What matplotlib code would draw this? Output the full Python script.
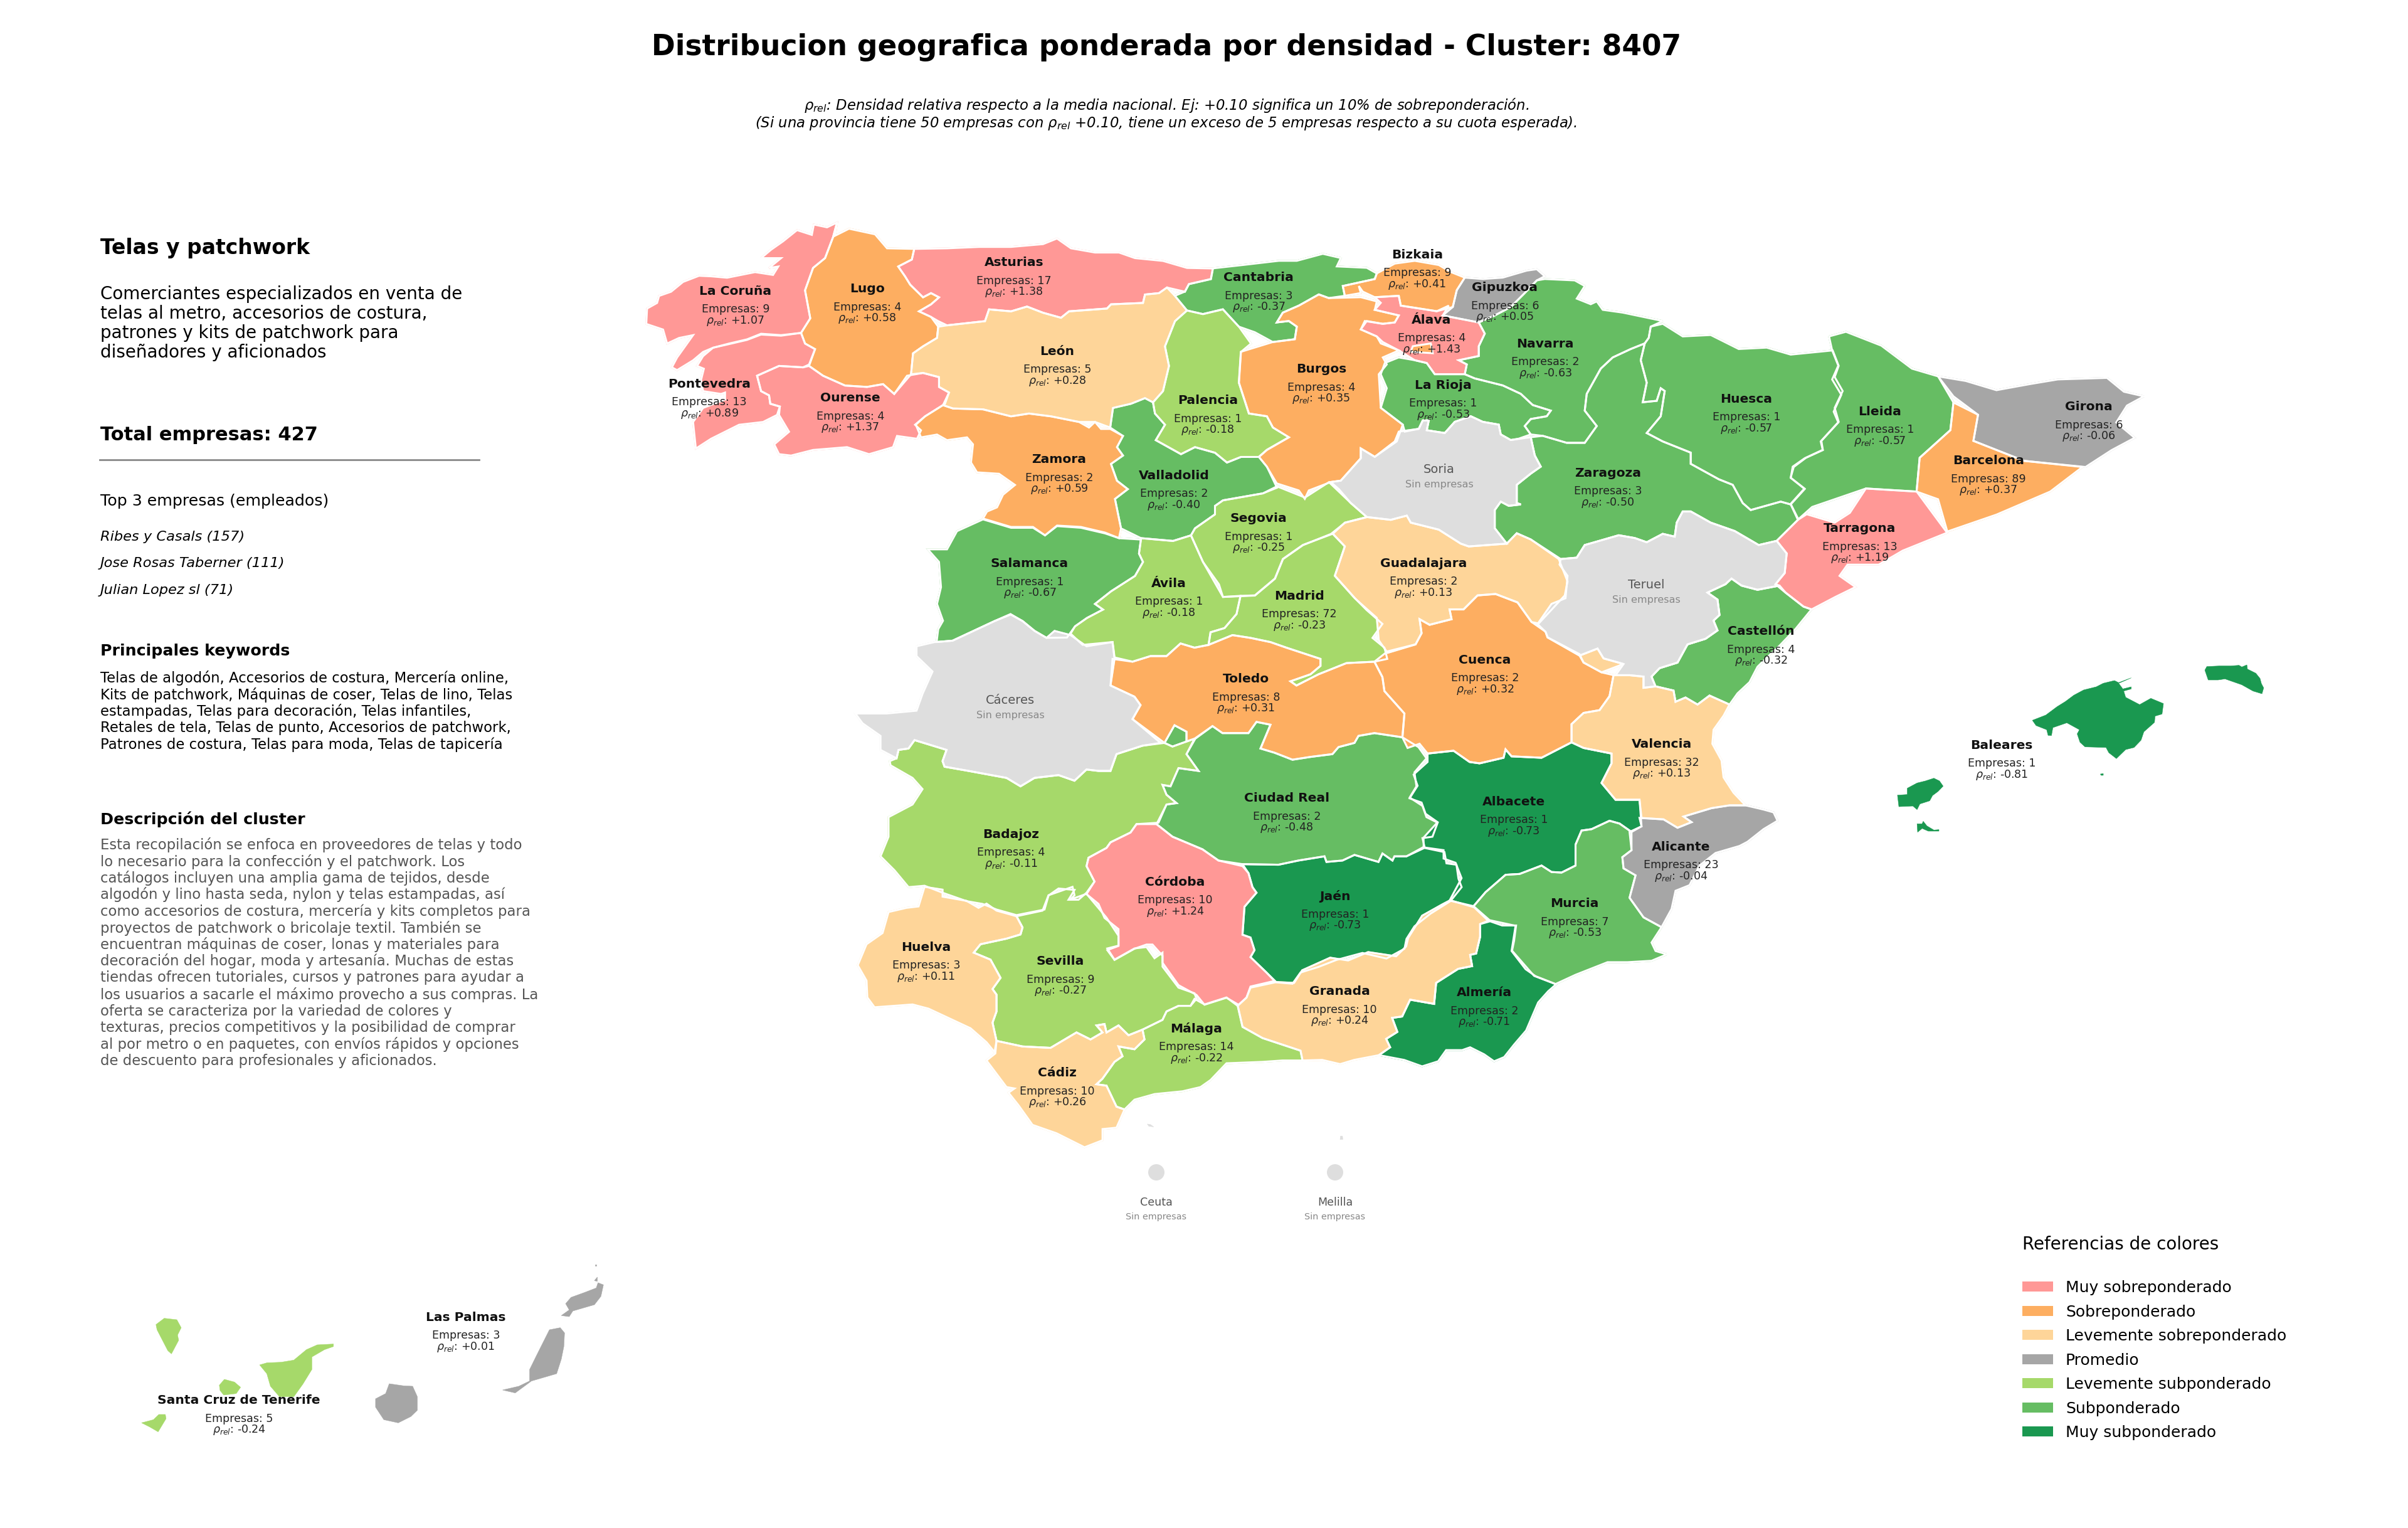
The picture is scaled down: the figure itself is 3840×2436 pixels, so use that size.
import matplotlib
matplotlib.use("Agg")
import matplotlib.pyplot as plt
from matplotlib.patches import Patch, Circle

# recortes de referencia: x0, y0, escala x, escala y (cada contorno se leyo sobre uno de ellos)
RECORTES = {
    "NO": (1000, 320, 1.568, 2.24),
    "NE": (1950, 360, 1.568, 2.24),
    "CE": (1350, 950, 1.568, 2.24),
    "ES": (2200, 900, 1.568, 2.24),
    "SO": (1350, 1300, 1.568, 2.24),
    "SE": (2000, 1250, 1.568, 2.24),
    "CA": (150, 2000, 1.742, 3.0),
    "BA": (2950, 1020, 2.24, 3.0),
    "PV": (0, 0, 1 / 2.449, 1 / 2.449),
}

LA_CORUNA = [(525,78),(500,95),(467,85),(462,122),(425,105),(390,145),(360,175),(335,205),(385,205),(355,240),(378,235),(365,265),(320,255),(250,275),(210,270),(180,268),(140,290),(110,325),(80,340),(75,365),(50,385),(48,440),(90,460),(100,510),(130,490),(165,480),(140,530),(125,560),(112,595),(125,605),(165,570),(190,540),(215,525),(255,510),(300,495),(335,475),(385,480),(435,472),(458,420),(445,320),(465,240),(495,205),(515,130)]
PONTEVEDRA = [(215,525),(255,512),(300,497),(335,478),(385,482),(435,472),(445,510),(470,530),(455,585),(440,595),(380,590),(325,625),(335,680),(355,695),(358,725),(382,735),(375,765),(340,790),(280,800),(210,850),(172,885),(165,790),(190,740),(245,710),(245,685),(235,690),(190,680),(185,640),(192,600),(175,590),(190,555)]
OURENSE = [(325,625),(380,590),(440,595),(455,590),(490,625),(545,660),(600,665),(640,655),(668,690),(700,625),(740,615),(780,630),(780,665),(805,685),(795,725),(745,770),(720,800),(735,820),(725,850),(675,840),(665,880),(605,905),(550,880),(465,890),(410,910),(380,905),(368,870),(405,825),(380,765),(382,735),(358,725),(355,695),(335,680)]
LUGO = [(525,78),(520,125),(555,100),(620,120),(650,170),(718,172),(712,210),(678,235),(695,270),(708,300),(740,345),(760,330),(780,345),(760,370),(730,395),(760,415),(778,450),(775,490),(740,520),(715,545),(710,620),(668,690),(640,655),(600,665),(545,660),(490,625),(455,590),(470,530),(445,510),(435,472),(458,420),(445,320),(465,240),(495,205),(515,130)]
ASTURIAS = [(718,172),(800,170),(880,165),(960,165),(1040,155),(1075,135),(1110,170),(1170,185),(1230,185),(1270,205),(1340,215),(1400,240),(1465,242),(1460,280),(1405,298),(1395,325),(1350,310),(1330,330),(1295,335),(1290,365),(1210,370),(1200,385),(1105,395),(1085,418),(1040,400),(1000,378),(960,395),(905,388),(895,430),(800,445),(778,430),(760,415),(730,395),(760,370),(780,345),(760,330),(740,345),(708,300),(695,270),(678,235),(712,210)]
LEON = [(800,445),(895,430),(905,388),(960,395),(1000,378),(1040,400),(1085,418),(1105,395),(1200,385),(1210,370),(1290,365),(1295,335),(1330,330),(1350,310),(1370,340),(1400,392),(1370,430),(1345,520),(1355,590),(1340,680),(1315,720),(1295,705),(1260,725),(1215,740),(1208,810),(1170,790),(1130,790),(1060,770),(1005,760),(960,770),(890,745),(815,742),(790,730),(805,685),(780,665),(780,630),(740,615),(710,620),(715,545),(740,520),(775,490),(778,450)]
ZAMORA = [(790,730),(815,742),(890,745),(960,770),(1005,760),(1060,770),(1130,790),(1155,810),(1170,790),(1185,815),(1208,815),(1240,840),(1225,880),(1240,910),(1210,940),(1225,1000),(1252,1030),(1220,1065),(1235,1170),(1230,1205),(1195,1185),(1135,1165),(1075,1160),(1045,1195),(1015,1165),(960,1165),(890,1135),(900,1110),(925,1095),(940,1050),(970,1015),(930,975),(875,970),(860,935),(865,870),(850,845),(800,855),(775,835),(735,845),(722,800),(745,770)]
SALAMANCA = [(890,1138),(960,1168),(1015,1168),(1045,1195),(1075,1162),(1135,1168),(1195,1188),(1230,1205),(1285,1210),(1280,1260),(1290,1290),(1270,1340),(1210,1395),(1170,1440),(1190,1460),(1150,1490),(1120,1520),(1100,1560),(1049,1561),(1019,1536),(989,1501),(959,1478),(919,1501),(859,1541),(814,1571),(774,1576),(778,1530),(790,1500),(775,1440),(785,1380),(780,1290),(752,1245),(800,1245),(825,1180)]
PALENCIA = [(1400,392),(1440,405),(1490,388),(1530,450),(1560,510),(1535,540),(1530,650),(1555,760),(1600,770),(1615,810),(1655,845),(1600,890),(1580,915),(1535,915),(1500,935),(1470,900),(1420,880),(1385,905),(1322,855),(1345,800),(1320,760),(1315,720),(1340,680),(1355,590),(1345,520),(1370,430)]
VALLADOLID = [(1208,810),(1215,740),(1260,725),(1295,705),(1315,720),(1320,760),(1345,800),(1322,855),(1385,905),(1420,880),(1470,900),(1500,935),(1535,915),(1580,915),(1600,950),(1625,1025),(1590,1045),(1490,1070),(1470,1090),(1470,1120),(1420,1170),(1410,1195),(1365,1215),(1285,1205),(1235,1170),(1220,1065),(1252,1030),(1225,1000),(1210,940),(1240,910),(1225,880),(1240,840)]
SEGOVIA = [(1410,1195),(1420,1170),(1470,1120),(1470,1090),(1490,1070),(1590,1045),(1625,1020),(1695,1060),(1755,1005),(1810,1080),(1850,1130),(1795,1150),(1760,1190),(1690,1230),(1640,1280),(1620,1350),(1570,1410),(1490,1415),(1480,1370),(1440,1290)]
AVILA = [(1285,1205),(1365,1215),(1410,1195),(1440,1290),(1490,1415),(1534,1411),(1524,1476),(1494,1526),(1459,1541),(1454,1586),(1419,1596),(1384,1581),(1349,1626),(1309,1626),(1264,1646),(1219,1631),(1214,1576),(1139,1586),(1109,1546),(1120,1520),(1150,1490),(1190,1460),(1170,1440),(1210,1395),(1270,1340),(1290,1290),(1280,1260)]

MADRID = [(1216,-222),(1246,-177),(1221,-72),(1271,8),(1300,50),(1340,100),(1315,150),(1345,185),(1352,225),(1320,235),(1250,240),(1180,280),(1125,320),(1110,305),(1160,280),(1185,250),(1185,225),(1100,185),(1060,165),(1010,150),(965,140),(905,175),(910,130),(945,115),(975,65),(985,0),(1021,-2),(1071,-62),(1091,-132),(1141,-182)]
TOLEDO = [(665,225),(715,235),(760,215),(800,215),(835,170),(870,185),(905,175),(965,140),(1010,150),(1060,165),(1100,185),(1185,225),(1185,250),(1160,280),(1110,305),(1125,320),(1180,280),(1250,240),(1320,235),(1340,290),(1345,340),(1395,420),(1390,505),(1320,490),(1280,500),(1270,525),(1230,540),(1215,565),(1160,575),(1115,585),(1070,560),(1035,545),(1060,460),(1025,450),(1005,490),(940,490),(915,465),(870,510),(850,520),(850,485),(820,462),(795,525),(715,440),(735,390),(720,360),(690,340),(660,320)]
CACERES = [(22,420),(100,420),(175,410),(190,350),(215,270),(175,215),(175,180),(220,165),(265,160),(310,130),(370,90),(410,65),(440,90),(470,125),(500,150),(520,125),(560,140),(600,180),(665,165),(670,225),(660,320),(690,340),(720,360),(735,390),(715,440),(785,525),(740,535),(675,565),(660,625),(630,625),(600,620),(570,660),(530,640),(470,650),(435,680),(400,650),(305,625),(245,610),(240,590),(250,550),(170,515),(155,545),(130,550),(125,580),(85,550),(85,500),(40,455)]
BADAJOZ = [(108,590),(125,580),(130,550),(155,545),(170,515),(250,550),(240,590),(245,610),(305,625),(400,650),(435,680),(470,650),(530,640),(570,660),(600,620),(630,625),(660,625),(675,565),(740,535),(795,525),(815,538),(850,520),(870,510),(850,565),(880,625),(830,615),(810,680),(790,675),(800,710),(825,740),(800,745),(780,810),(725,815),(710,845),(660,880),(650,900),(605,935),(600,965),(620,1020),(600,1060),(580,1085),(555,1085),(570,1050),(530,1045),(505,1070),(495,1120),(425,1140),(375,1120),(340,1100),(300,1090),(240,1060),(195,1035),(155,1040),(120,980),(85,930),(105,860),(105,790),(165,745),(190,690),(165,650),(110,605)]
CIUDAD_REAL = [(872,510),(915,465),(940,490),(1005,490),(1025,450),(1060,460),(1035,545),(1070,560),(1115,585),(1160,575),(1215,565),(1230,540),(1270,525),(1280,500),(1320,490),(1390,505),(1430,540),(1450,580),(1420,630),(1425,680),(1408,720),(1440,750),(1450,790),(1478,810),(1465,860),(1440,865),(1445,895),(1400,930),(1370,930),(1365,945),(1340,920),(1330,950),(1270,925),(1240,945),(1200,950),(1195,930),(1130,945),(1080,960),(990,958),(930,945),(890,905),(815,860),(775,815),(800,745),(825,740),(800,710),(790,675),(810,680),(830,615),(880,625),(850,565)]
ENCLAVE_CR = [(795,525),(820,462),(850,485),(850,520),(815,538)]
CORDOBA = [(725,815),(775,815),(815,860),(890,905),(930,945),(990,965),(1005,990),(1015,1040),(1025,1060),(995,1110),(990,1210),(1010,1220),(1020,1265),(1010,1290),(1050,1345),(1070,1375),(1010,1395),(1000,1435),(980,1460),(950,1435),(895,1460),(875,1425),(830,1390),(790,1310),(790,1285),(765,1245),(750,1245),(720,1260),(670,1300),(652,1265),(680,1250),(680,1190),(645,1150),(630,1100),(600,1065),(620,1020),(600,965),(605,935),(650,900),(660,880),(710,845)]
JAEN = [(990,958),(1080,960),(1130,945),(1195,930),(1200,950),(1240,945),(1270,925),(1330,950),(1340,920),(1365,945),(1370,930),(1400,930),(1445,900),(1495,915),(1500,955),(1525,960),(1530,1010),(1538,1040),(1510,1090),(1460,1135),(1420,1180),(1400,1225),(1395,1260),(1350,1295),(1290,1275),(1225,1300),(1180,1325),(1135,1345),(1115,1385),(1075,1380),(1050,1345),(1010,1290),(1020,1265),(1010,1220),(990,1210),(995,1110),(1025,1060),(1015,1040),(1005,990)]

ALBACETE = [(120,675),(185,665),(225,705),(250,710),(310,690),(315,660),(330,685),(405,690),(480,635),(510,655),(580,675),(580,710),(555,780),(590,840),(650,840),(655,935),(630,955),(600,925),(575,915),(530,945),(505,950),(490,1000),(490,1075),(455,1100),(430,1098),(405,1075),(350,1105),(315,1108),(265,1170),(235,1220),(175,1200),(205,1120),(190,1065),(160,1050),(160,1020),(110,1010),(110,975),(145,920),(115,890),(105,850),(75,835),(95,790),(85,750),(120,705)]
CUENCA = [(100,195),(125,215),(180,195),(175,160),(210,160),(245,110),(290,105),(345,135),(380,205),(415,240),(420,260),(500,320),(510,350),(555,385),(585,395),(575,470),(550,520),(510,530),(480,570),(480,635),(405,690),(330,685),(315,660),(310,690),(250,710),(225,705),(185,665),(120,675),(100,640),(70,655),(57,617),(62,532),(12,452),(7,402),(-13,347),(20,310),(90,285),(105,245)]
ADEMUZ = [(500,325),(545,300),(560,335),(610,355),(555,385),(510,350)]
CASTELLON = [(820,100),(865,70),(880,50),(905,75),(945,90),(1000,75),(1015,100),(1060,150),(1080,160),(1040,230),(1000,290),(970,330),(945,365),(925,420),(895,460),(875,500),(825,468),(795,500),(765,475),(740,490),(735,450),(690,435),(680,400),(700,370),(745,350),(770,285),(815,265),(845,235),(835,200),(850,180),(845,125)]
VALENCIA = [(585,395),(625,395),(660,400),(660,440),(690,435),(735,450),(740,490),(765,475),(795,500),(825,468),(875,500),(860,540),(835,590),(832,640),(855,700),(860,760),(885,815),(915,860),(875,860),(830,870),(760,900),(780,920),(745,940),(710,910),(655,905),(650,840),(590,840),(555,780),(580,710),(580,675),(510,655),(480,635),(480,570),(510,530),(550,520),(575,470)]
ALICANTE = [(650,905),(710,910),(745,940),(780,920),(760,900),(830,870),(875,860),(915,860),(960,875),(985,885),(995,915),(960,945),(920,990),(900,1005),(840,1030),(800,1075),(775,1145),(740,1165),(730,1230),(705,1295),(660,1260),(625,1190),(640,1110),(610,1085),(607,1045),(630,1020),(625,955),(655,935)]
MURCIA = [(235,1220),(265,1170),(315,1108),(350,1105),(405,1075),(430,1098),(455,1100),(490,1075),(490,1000),(505,950),(530,945),(575,915),(600,925),(630,955),(630,1020),(607,1045),(610,1085),(640,1110),(625,1190),(660,1260),(705,1295),(680,1350),(690,1380),(718,1392),(680,1415),(620,1420),(570,1420),(490,1465),(440,1498),(390,1470),(365,1445),(330,1380),(340,1290),(275,1270)]

BURGOS = [(240,245),(265,258),(345,255),(385,270),(380,300),(440,320),(430,345),(400,350),(355,340),(345,370),(385,395),(395,420),(440,445),(400,470),(410,495),(390,530),(395,650),(450,710),(435,770),(380,825),(345,795),(345,830),(295,910),(270,915),(215,945),(205,975),(190,945),(135,920),(110,860),(90,825),(110,800),(165,755),(125,720),(110,680),(65,670),(40,560),(45,450),(125,415),(180,405),(185,360),(165,340),(135,345),(150,310),(190,285)]
CANTABRIA = [(-25,152),(50,140),(140,125),(185,125),(250,100),(295,115),(285,145),(360,150),(385,170),(380,190),(300,215),(305,250),(265,258),(240,245),(190,285),(150,310),(135,345),(165,340),(185,360),(180,405),(125,415),(80,380),(40,360),(0,298),(-50,315),(-90,302),(-120,250),(-95,235),(-85,208),(-30,190)]
BIZKAIA = [(300,215),(380,190),(385,170),(430,135),(480,125),(540,140),(570,165),(605,185),(585,230),(575,290),(535,305),(445,285),(440,250),(380,255),(350,235),(340,215),(345,240),(305,250)]
GIPUZKOA = [(605,185),(650,190),(700,185),(760,160),(785,155),(805,180),(785,195),(755,240),(720,290),(680,320),(640,345),(550,320),(575,290),(585,230)]
ALAVA = [(380,255),(440,250),(445,285),(535,305),(565,285),(550,320),(640,345),(655,385),(640,430),(640,465),(590,480),(610,495),(605,530),(530,530),(510,490),(480,480),(440,445),(400,415),(385,395),(345,370),(360,340),(400,350),(430,345),(440,320),(380,300),(395,275)]
TREVINO = [(475,430),(520,420),(525,455),(470,450)]
LA_RIOJA = [(405,490),(440,470),(480,480),(510,490),(530,530),(605,530),(630,545),(700,570),(745,600),(775,640),(820,660),(810,680),(770,690),(755,715),(770,745),(740,760),(720,765),(695,745),(690,710),(650,700),(620,680),(580,700),(555,740),(510,730),(515,695),(500,695),(490,725),(455,735),(450,710),(395,650),(410,580),(395,530)]
NAVARRA = [(805,190),(880,195),(905,215),(885,260),(920,280),(935,270),(950,300),(1000,310),(1100,340),(1070,360),(1065,400),(1055,420),(1020,440),(975,470),(945,510),(910,600),(905,660),(935,715),(905,775),(860,775),(800,750),(770,745),(755,715),(770,690),(810,680),(820,660),(775,640),(745,600),(700,570),(630,545),(605,530),(610,495),(590,480),(640,465),(640,430),(655,385),(640,345),(680,320),(720,290),(755,240),(785,195)]
ZARAGOZA = [(770,755),(800,750),(860,775),(905,775),(935,715),(905,660),(910,600),(945,510),(975,470),(1020,440),(1055,420),(1045,480),(1060,560),(1050,630),(1085,625),(1095,580),(1105,590),(1095,680),(1060,740),(1100,770),(1170,810),(1170,850),(1240,905),(1275,925),(1300,990),(1320,1015),(1395,985),(1420,995),(1438,1050),(1385,1125),(1340,1140),(1280,1090),(1220,1060),(1170,1020),(1150,1020),(1135,1060),(1130,1110),(1100,1100),(1060,1130),(1030,1115),(990,1105),(905,1140),(885,1185),(845,1190),(770,1120),(735,1098),(710,1135),(680,1080),(680,1015),(695,985),(715,1000),(745,995),(735,990),(735,925),(770,885),(795,860),(780,820)]
HUESCA = [(1100,350),(1150,395),(1220,390),(1290,440),(1360,435),(1420,460),(1525,445),(1540,500),(1530,540),(1550,590),(1530,650),(1540,700),(1495,770),(1500,800),(1455,830),(1425,860),(1420,900),(1455,940),(1420,995),(1395,985),(1320,1015),(1300,990),(1275,925),(1240,905),(1170,850),(1170,810),(1100,770),(1060,740),(1095,680),(1105,590),(1095,580),(1085,625),(1050,630),(1060,560),(1045,480),(1055,420),(1065,400),(1070,360)]
SORIA = [(270,915),(295,910),(345,830),(345,795),(380,825),(430,770),(440,735),(490,725),(500,695),(515,695),(510,730),(555,740),(580,700),(620,680),(650,700),(690,710),(695,745),(720,765),(770,755),(780,820),(795,860),(770,885),(735,925),(735,990),(745,995),(715,1000),(695,985),(680,1015),(680,1080),(710,1135),(615,1145),(595,1135),(540,1085),(470,1060),(460,1035),(420,1050),(360,1040),(320,990),(290,940)]
GUADALAJARA = [(275,1100),(305,1060),(360,1040),(420,1050),(460,1035),(470,1060),(540,1085),(595,1135),(615,1145),(710,1135),(735,1098),(770,1120),(840,1190),(862,1270),(855,1320),(790,1420),(772,1415),(737,1345),(682,1315),(637,1320),(602,1370),(567,1370),(572,1405),(517,1425),(492,1405),(497,1455),(482,1495),(412,1525),(390,1480),(385,1400),(330,1330),(280,1250),(305,1145)]
TERUEL = [(845,1190),(885,1185),(905,1140),(990,1105),(1030,1115),(1060,1130),(1100,1100),(1130,1110),(1135,1060),(1150,1020),(1170,1020),(1220,1060),(1280,1090),(1340,1140),(1385,1125),(1410,1170),(1405,1240),(1382,1280),(1392,1285),(1337,1300),(1297,1285),(1272,1260),(1257,1280),(1212,1310),(1237,1335),(1242,1390),(1227,1410),(1237,1445),(1207,1475),(1162,1495),(1137,1560),(1092,1580),(1072,1610),(1082,1645),(1052,1650),(1052,1610),(1017,1605),(982,1605),(1002,1565),(952,1545),(937,1510),(892,1535),(812,1470),(807,1450),(787,1422),(822,1350),(857,1330),(862,1250),(842,1210)]
TARRAGONA = [(1385,1125),(1438,1050),(1460,1030),(1530,1060),(1568,1025),(1608,938),(1735,949),(1811,1096),(1700,1160),(1640,1210),(1562,1210),(1542,1250),(1582,1290),(1532,1325),(1472,1370),(1452,1360),(1407,1310),(1382,1280),(1405,1240),(1410,1170)]

LLEIDA = [(1191,219),(1202,216),(1225,225),(1245,240),(1262,245),(1272,262),(1270,280),(1250,298),(1248,320),(1215,318),(1180,330),(1171,338),(1166,328),(1175,318),(1166,311),(1168,304),(1176,298),(1187,293),(1186,287),(1197,275),(1194,268),(1199,257),(1193,247),(1197,238),(1193,228)]
GIRONA = [(1272,258),(1262,245),(1280,248),(1300,254),(1322,250),(1340,247),(1372,246),(1383,255),(1396,258),(1385,264),(1378,275),(1390,285),(1375,293),(1358,304),(1318,300),(1285,287),(1288,270)]
BARCELONA = [(1272,262),(1288,270),(1285,287),(1318,300),(1356,304),(1335,320),(1300,335),(1268,346),(1262,325),(1248,320),(1250,298),(1270,280)]

ALMERIA = [(565,500),(590,490),(620,505),(655,505),(650,560),(645,595),(700,685),(755,715),(735,740),(710,780),(695,830),(680,880),(650,930),(625,975),(600,990),(575,965),(540,940),(520,950),(480,950),(460,990),(420,1008),(375,985),(312,968),(340,940),(330,910),(358,885),(345,835),(370,830),(390,770),(450,785),(455,710),(510,660),(545,650),(540,610),(555,605),(565,545)]
GRANADA = [(490,415),(550,440),(585,488),(565,500),(565,545),(555,605),(540,610),(545,650),(510,660),(455,710),(450,785),(390,770),(370,830),(345,835),(358,885),(330,910),(340,940),(312,968),(250,985),(215,1000),(170,985),(121,987),(116,952),(21,907),(-29,867),(-41,792),(-19,762),(-9,727),(56,707),(100,710),(120,665),(190,620),(235,630),(285,600),(355,615),(380,580),(385,550),(420,470),(470,430)]
MALAGA = [(640,940),(670,880),(690,860),(680,825),(720,835),(745,800),(740,765),(790,730),(800,700),(830,680),(860,680),(870,655),(895,675),(950,650),(978,680),(990,755),(1040,795),(1135,840),(1140,875),(1090,875),(1040,880),(950,885),(910,945),(885,970),(840,985),(770,995),(720,1015),(695,1050),(675,1040),(650,965),(625,960)]
SEVILLA = [(318,490),(335,460),(400,440),(435,425),(440,400),(425,360),(490,340),(505,285),(565,255),(570,285),(560,300),(600,280),(650,365),(680,430),(680,465),(652,475),(670,515),(720,475),(750,470),(770,510),(790,490),(790,540),(830,615),(870,635),(875,655),(860,680),(830,680),(800,700),(790,730),(740,765),(705,785),(680,750),(650,775),(645,745),(625,750),(640,775),(610,800),(575,775),(510,830),(440,825),(375,805),(365,740),(375,700),(375,640),(365,620),(385,580),(360,515)]
HUELVA = [(195,255),(240,265),(240,290),(300,305),(330,330),(350,315),(375,340),(425,360),(440,400),(435,425),(400,440),(335,460),(318,490),(360,515),(385,580),(365,620),(375,640),(375,700),(365,740),(375,805),(370,845),(350,810),(310,760),(250,720),(205,690),(165,675),(70,685),(52,650),(50,590),(28,535),(50,460),(90,420),(105,345),(150,330),(180,325)]
CADIZ = [(375,805),(440,825),(510,830),(575,775),(610,800),(640,775),(625,750),(645,745),(650,775),(680,750),(705,785),(740,765),(745,800),(720,835),(680,825),(690,860),(670,880),(640,940),(625,960),(650,965),(675,1040),(695,1050),(675,1115),(640,1120),(640,1160),(595,1185),(525,1135),(465,1105),(430,1035),(405,990),(420,975),(400,970),(350,875),(372,850)]
CEUTA_COSTA = [(752,1102),(760,1104),(768,1112),(756,1110)]
MELILLA_COSTA = [(1235,1145),(1240,1145),(1241,1157),(1234,1157)]

MALLORCA = [(652,385),(700,360),(740,320),(770,295),(800,265),(835,240),(880,225),(905,208),(945,195),(960,205),(1005,182),(960,208),(975,235),(1005,225),(1005,235),(978,245),(985,275),(1035,310),(1075,280),(1120,305),(1115,355),(1090,365),(1088,395),(1050,440),(1040,480),(1015,515),(985,525),(952,568),(925,540),(915,515),(840,512),(822,490),(812,450),(820,430),(775,397),(725,420),(720,458),(708,457),(703,430),(665,410)]
MENORCA = [(1268,145),(1275,128),(1320,125),(1360,125),(1390,122),(1400,130),(1418,120),(1420,140),(1450,160),(1465,185),(1470,210),(1478,230),(1472,258),(1440,245),(1400,215),(1340,187),(1315,192),(1280,192)]
IBIZA = [(170,743),(205,740),(205,710),(240,685),(270,675),(300,662),(320,675),(333,700),(315,725),(295,745),(285,770),(250,785),(240,812),(225,795),(175,798)]
FORMENTERA = [(240,880),(258,880),(262,868),(275,890),(300,910),(318,908),(318,915),(280,915),(258,902),(242,920)]
CABRERA = [(895,642),(905,640),(905,648),(897,648)]

LA_PALMA = [(172,335),(195,305),(230,312),(242,350),(232,385),(235,410),(215,475),(205,460),(190,410),(175,360)]
TENERIFE = [(460,528),(480,518),(520,515),(555,505),(590,455),(620,432),(665,428),(665,440),(640,455),(605,490),(605,550),(580,620),(555,680),(515,680),(490,630),(480,570)]
LA_GOMERA = [(348,625),(362,597),(390,610),(407,635),(395,665),(360,672),(350,650)]
EL_HIERRO = [(132,805),(165,790),(180,765),(198,765),(200,785),(178,848),(155,825)]
GRAN_CANARIA = [(782,690),(810,665),(820,618),(860,628),(885,630),(898,680),(898,745),(880,775),(845,805),(805,790),(782,730)]
FUERTEVENTURA = [(1135,648),(1180,630),(1210,605),(1210,550),(1230,480),(1265,360),(1295,350),(1307,375),(1305,440),(1298,500),(1285,570),(1215,605),(1170,662)]
LANZAROTE = [(1298,292),(1320,265),(1310,235),(1325,205),(1365,180),(1395,160),(1400,135),(1415,145),(1408,200),(1390,240),(1330,270),(1320,297)]
LA_GRACIOSA = [(1390,125),(1398,108),(1398,128)]
ALEGRANZA = [(1391,48),(1396,48),(1396,53),(1391,53)]

# (provincia, recorte, partes, empresas, rho, x etiqueta, y etiqueta)
PROVINCIAS = [
    ("La Coruña", "NO", [LA_CORUNA], 9, 1.07, 1173, 464),
    ("Pontevedra", "NO", [PONTEVEDRA], 13, 0.89, 1131, 612),
    ("Ourense", "NO", [OURENSE], 4, 1.37, 1356, 635),
    ("Lugo", "NO", [LUGO], 4, 0.58, 1383, 461),
    ("Asturias", "NO", [ASTURIAS], 17, 1.38, 1617, 419),
    ("León", "NO", [LEON], 5, 0.28, 1686, 560),
    ("Zamora", "NO", [ZAMORA], 2, 0.59, 1689, 733),
    ("Salamanca", "NO", [SALAMANCA], 1, -0.67, 1642, 899),
    ("Valladolid", "NO", [VALLADOLID], 2, -0.40, 1872, 758),
    ("Palencia", "NO", [PALENCIA], 1, -0.18, 1926, 639),
    ("Segovia", "NO", [SEGOVIA], 1, -0.25, 2007, 827),
    ("Ávila", "NO", [AVILA], 1, -0.18, 1864, 930),
    ("Madrid", "CE", [MADRID], 72, -0.23, 2072, 950),
    ("Toledo", "CE", [TOLEDO], 8, 0.31, 1987, 1083),
    ("Badajoz", "CE", [BADAJOZ], 4, -0.11, 1612, 1330),
    ("Ciudad Real", "CE", [CIUDAD_REAL, ENCLAVE_CR], 2, -0.48, 2052, 1273),
    ("Córdoba", "CE", [CORDOBA], 10, 1.24, 1874, 1406),
    ("Jaén", "CE", [JAEN], 1, -0.73, 2129, 1429),
    ("Albacete", "ES", [ALBACETE], 1, -0.73, 2414, 1278),
    ("Cuenca", "ES", [CUENCA], 2, 0.32, 2368, 1052),
    ("Castellón", "ES", [CASTELLON], 4, -0.32, 2808, 1007),
    ("Valencia", "ES", [VALENCIA, ADEMUZ], 32, 0.13, 2650, 1187),
    ("Alicante", "ES", [ALICANTE], 23, -0.04, 2681, 1350),
    ("Murcia", "ES", [MURCIA], 7, -0.53, 2511, 1441),
    ("Cantabria", "NE", [CANTABRIA], 3, -0.37, 2007, 443),
    ("Burgos", "NE", [BURGOS], 4, 0.35, 2107, 589),
    ("Álava", "NE", [ALAVA], 4, 1.43, 2283, 510),
    ("Bizkaia", "NE", [BIZKAIA], 9, 0.41, 2260, 406),
    ("Gipuzkoa", "NE", [GIPUZKOA], 6, 0.05, 2400, 459),
    ("La Rioja", "NE", [LA_RIOJA], 1, -0.53, 2301, 614),
    ("Navarra", "NE", [NAVARRA], 2, -0.63, 2464, 548),
    ("Zaragoza", "NE", [ZARAGOZA], 3, -0.50, 2564, 754),
    ("Huesca", "NE", [HUESCA], 1, -0.57, 2785, 636),
    ("Guadalajara", "NE", [GUADALAJARA], 2, 0.13, 2270, 898),
    ("Tarragona", "NE", [TARRAGONA], 13, 1.19, 2966, 843),
    ("Lleida", "PV", [LLEIDA], 1, -0.57, 2998, 656),
    ("Girona", "PV", [GIRONA], 6, -0.06, 3331, 649),
    ("Barcelona", "PV", [BARCELONA], 89, 0.37, 3171, 735),
    ("Almería", "SE", [ALMERIA], 2, -0.71, 2367, 1583),
    ("Granada", "SE", [GRANADA], 10, 0.24, 2136, 1581),
    ("Málaga", "SO", [MALAGA], 14, -0.22, 1908, 1640),
    ("Sevilla", "SO", [SEVILLA], 9, -0.27, 1691, 1533),
    ("Huelva", "SO", [HUELVA], 3, 0.11, 1477, 1510),
    ("Cádiz", "SO", [CADIZ], 10, 0.26, 1686, 1711),
]
# las islas van sin contorno blanco
ISLAS = [
    ("Baleares", "BA", [MALLORCA, MENORCA, IBIZA, FORMENTERA, CABRERA], 1, -0.81, 3192, 1188),
    ("Santa Cruz de Tenerife", "CA", [LA_PALMA, TENERIFE, LA_GOMERA, EL_HIERRO], 5, -0.24, 381, 2233),
    ("Las Palmas", "CA", [GRAN_CANARIA, FUERTEVENTURA, LANZAROTE, LA_GRACIOSA, ALEGRANZA], 3, 0.01, 743, 2100),
]

SIN_EMPRESAS = [
    ("Soria", "NE", SORIA, 2295, 749),
    ("Teruel", "NE", TERUEL, 2625, 933),
    ("Cáceres", "CE", CACERES, 1611, 1117),
]
CIUDADES_SIN = ["Ceuta", "Melilla"]
CIUDADES_X = [1844, 2129]
CIUDADES_Y = [1869, 1869]
CIUDADES_R = 13
CIUDADES_TXT_Y = 1917

LEYENDA_NOMBRES = ["Muy sobreponderado", "Sobreponderado", "Levemente sobreponderado", "Promedio",
                   "Levemente subponderado", "Subponderado", "Muy subponderado"]
LEYENDA_COLORES = ["#ff9896", "#fdae61", "#fed599", "#a6a6a6", "#a6d96a", "#66bd63", "#1a9850"]
COLOR_SIN = "#dedede"

LINEAS_DESC = ["Comerciantes especializados en venta de", "telas al metro, accesorios de costura,",
               "patrones y kits de patchwork para", "diseñadores y aficionados"]
TOP_EMPRESAS = ["Ribes y Casals (157)", "Jose Rosas Taberner (111)", "Julian Lopez sl (71)"]
KEYWORDS = ["Telas de algodón, Accesorios de costura, Mercería online,",
            "Kits de patchwork, Máquinas de coser, Telas de lino, Telas",
            "estampadas, Telas para decoración, Telas infantiles,",
            "Retales de tela, Telas de punto, Accesorios de patchwork,",
            "Patrones de costura, Telas para moda, Telas de tapicería"]
DESCRIPCION = ["Esta recopilación se enfoca en proveedores de telas y todo",
               "lo necesario para la confección y el patchwork. Los",
               "catálogos incluyen una amplia gama de tejidos, desde",
               "algodón y lino hasta seda, nylon y telas estampadas, así",
               "como accesorios de costura, mercería y kits completos para",
               "proyectos de patchwork o bricolaje textil. También se",
               "encuentran máquinas de coser, lonas y materiales para",
               "decoración del hogar, moda y artesanía. Muchas de estas",
               "tiendas ofrecen tutoriales, cursos y patrones para ayudar a",
               "los usuarios a sacarle el máximo provecho a sus compras. La",
               "oferta se caracteriza por la variedad de colores y",
               "texturas, precios competitivos y la posibilidad de comprar",
               "al por metro o en paquetes, con envíos rápidos y opciones",
               "de descuento para profesionales y aficionados."]


def a_px(recorte, puntos):
    x0, y0, sx, sy = RECORTES[recorte]
    return [x0 + u / sx for u, v in puntos], [y0 + v / sy for u, v in puntos]


def color_rho(rho):
    if rho >= 0.75:
        return LEYENDA_COLORES[0]
    if rho >= 0.30:
        return LEYENDA_COLORES[1]
    if rho >= 0.10:
        return LEYENDA_COLORES[2]
    if rho > -0.10:
        return LEYENDA_COLORES[3]
    if rho > -0.30:
        return LEYENDA_COLORES[4]
    if rho > -0.70:
        return LEYENDA_COLORES[5]
    return LEYENDA_COLORES[6]


def dibuja(ax, recorte, puntos, color, contorno=True):
    xs, ys = a_px(recorte, puntos)
    ax.fill(xs, ys, facecolor=color, edgecolor=color, linewidth=1.0 if contorno else 0.2, zorder=1)
    if contorno:
        ax.fill(xs, ys, facecolor="none", edgecolor="white", linewidth=1.1, zorder=2)


def etiqueta(ax, nombre, empresas, rho, x, y):
    ax.text(x, y, nombre, ha="center", va="center", fontsize=7.3, fontweight="bold", color="#111111", zorder=3)
    ax.text(x, y + 29, f"Empresas: {empresas}", ha="center", va="center", fontsize=6.3, color="#222222", zorder=3)
    ax.text(x, y + 47, f"$\\rho_{{rel}}$: {rho:+.2f}", ha="center", va="center", fontsize=6.3, color="#222222", zorder=3)


fig = plt.figure(figsize=(19.2, 12.18), dpi=200)
ax = fig.add_axes([0, 0, 1, 1])
ax.set_xlim(0, 3840)
ax.set_ylim(2436, 0)
ax.axis("off")

# --- provincias ---
for nombre, recorte, partes, empresas, rho, x, y in PROVINCIAS:
    for parte in partes:
        dibuja(ax, recorte, parte, color_rho(rho))
    etiqueta(ax, nombre, empresas, rho, x, y)
dibuja(ax, "NE", TREVINO, LEYENDA_COLORES[1])

for nombre, recorte, partes, empresas, rho, x, y in ISLAS:
    for parte in partes:
        dibuja(ax, recorte, parte, color_rho(rho), contorno=False)
    etiqueta(ax, nombre, empresas, rho, x, y)

for nombre, recorte, forma, x, y in SIN_EMPRESAS:
    dibuja(ax, recorte, forma, COLOR_SIN)
    ax.text(x, y, nombre, ha="center", va="center", fontsize=7, color="#555555", zorder=3)
    ax.text(x, y + 23, "Sin empresas", ha="center", va="center", fontsize=5.8, color="#888888", zorder=3)

for nombre, cx, cy in zip(CIUDADES_SIN, CIUDADES_X, CIUDADES_Y):
    ax.add_patch(Circle((cx, cy), CIUDADES_R, facecolor=COLOR_SIN, edgecolor="none", zorder=1))
    ax.text(cx, CIUDADES_TXT_Y, nombre, ha="center", va="center", fontsize=6.3, color="#555555", zorder=3)
    ax.text(cx, CIUDADES_TXT_Y + 23, "Sin empresas", ha="center", va="center", fontsize=5.2, color="#888888", zorder=3)
dibuja(ax, "SO", CEUTA_COSTA, COLOR_SIN, contorno=False)
dibuja(ax, "SO", MELILLA_COSTA, COLOR_SIN, contorno=False)

# --- titulo ---
ax.text(1860, 75, "Distribucion geografica ponderada por densidad - Cluster: 8407",
        ha="center", va="center", fontsize=16.4, fontweight="bold", color="black")
ax.text(1860, 168, "$\\rho_{rel}$: Densidad relativa respecto a la media nacional. Ej: +0.10 significa un 10% de sobreponderación.",
        ha="center", va="center", fontsize=8.2, style="italic")
ax.text(1860, 197, "(Si una provincia tiene 50 empresas con $\\rho_{rel}$ +0.10, tiene un exceso de 5 empresas respecto a su cuota esperada).",
        ha="center", va="center", fontsize=8.2, style="italic")

# --- panel izquierdo ---
XT = 160
ax.text(XT, 395, "Telas y patchwork", va="center", fontsize=11.9, fontweight="bold")
for i, linea in enumerate(LINEAS_DESC):
    ax.text(XT, 469 + i * 31, linea, va="center", fontsize=10)
ax.text(XT, 694, "Total empresas: 427", va="center", fontsize=11, fontweight="bold")
ax.plot([159, 764], [733, 733], color="#888888", linewidth=1)
ax.text(XT, 799, "Top 3 empresas (empleados)", va="center", fontsize=9.1)
for i, linea in enumerate(TOP_EMPRESAS):
    ax.text(XT, 856 + i * 42.5, linea, va="center", fontsize=8.1, style="italic")
ax.text(XT, 1038, "Principales keywords", va="center", fontsize=9.1, fontweight="bold")
for i, linea in enumerate(KEYWORDS):
    ax.text(XT, 1081 + i * 26.5, linea, va="center", fontsize=8.2)
ax.text(XT, 1306, "Descripción del cluster", va="center", fontsize=9.1, fontweight="bold")
for i, linea in enumerate(DESCRIPCION):
    ax.text(XT, 1347 + i * 26.5, linea, va="center", fontsize=8.2, color="#555555")

# --- leyenda ---
ax.text(3225, 1984, "Referencias de colores", va="center", fontsize=10)
handles = [Patch(facecolor=c, edgecolor="none", label=n) for n, c in zip(LEYENDA_NOMBRES, LEYENDA_COLORES)]
ax.legend(handles=handles, loc="upper left", bbox_to_anchor=(3225 / 3840, 1 - 2041 / 2436), frameon=False,
          fontsize=9, borderpad=0, borderaxespad=0, handlelength=1.96, handleheight=0.6,
          labelspacing=0.58, handletextpad=0.8)

fig.savefig("out.png", dpi=200, facecolor="white")
